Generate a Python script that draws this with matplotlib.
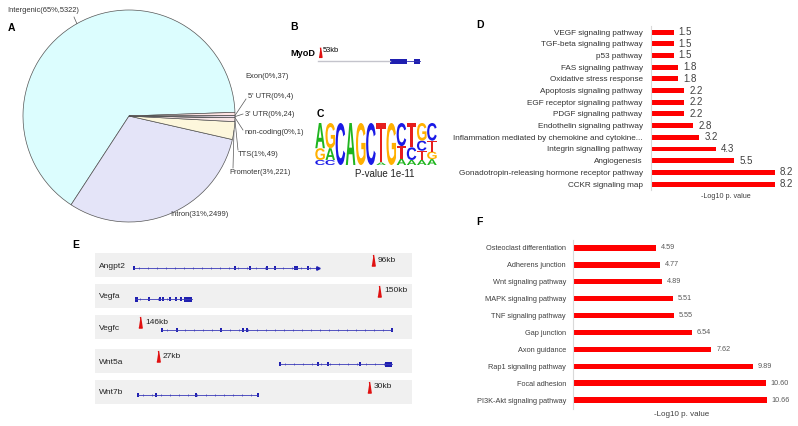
import numpy as np
import matplotlib
matplotlib.use('Agg')
import matplotlib.pyplot as plt
from matplotlib.textpath import TextPath
from matplotlib.patches import PathPatch, Rectangle
from matplotlib.font_manager import FontProperties
from matplotlib.transforms import Affine2D

plt.rcParams['font.family'] = ['Liberation Sans', 'DejaVu Sans']

W, H = 798, 426

# A - peak annotation
ann_names = ['Intergenic', 'Intron', 'Promoter', 'TTS', 'non-coding', "3' UTR", "5' UTR", 'Exon']
ann_counts = [5322, 2499, 221, 49, 1, 24, 4, 37]
ann_pcts = [65, 31, 3, 1, 0, 0, 0, 0]
ann_colors = ['#dcfdfe', '#e4e4f8', '#fdf7dc', '#f8e6e6', '#e6f6e6', '#f0e0f0', '#e0e0ff', '#ffe4e4']

# B - MyoD
myod_peak_kb = 53
myod_exons = [(72, 89), (96, 102)]
myod_span = (0, 102)

# C - motif, stacks bottom -> top
motif = [
    [('C', .12), ('G', .28), ('A', .60)],
    [('C', .12), ('A', .28), ('G', .60)],
    [('C', 1.0)],
    [('A', 1.0)],
    [('G', 1.0)],
    [('C', 1.0)],
    [('A', .06), ('T', .94)],
    [('G', 1.0)],
    [('A', .15), ('T', .30), ('C', .55)],
    [('A', .12), ('C', .30), ('T', .58)],
    [('A', .12), ('T', .22), ('C', .24), ('G', .42)],
    [('A', .14), ('G', .18), ('T', .26), ('C', .42)],
]
motif_pvalue = '1e-11'
base_colors = {'A': '#1fb51f', 'C': '#1a1ae6', 'G': '#ffb000', 'T': '#e61e1e'}

# D - PANTHER pathways
d_terms = ['VEGF signaling pathway', 'TGF-beta signaling pathway', 'p53 pathway',
           'FAS signaling pathway', 'Oxidative stress response', 'Apoptosis signaling pathway',
           'EGF receptor signaling pathway', 'PDGF signaling pathway', 'Endothelin signaling pathway',
           'Inflammation mediated by chemokine and cytokine...', 'Integrin signalling pathway',
           'Angiogenesis', 'Gonadotropin-releasing hormone receptor pathway', 'CCKR signaling map']
d_vals = [1.5, 1.5, 1.5, 1.8, 1.8, 2.2, 2.2, 2.2, 2.8, 3.2, 4.3, 5.5, 8.2, 8.2]

# E - gene tracks
genes = ['Angpt2', 'Vegfa', 'Vegfc', 'Wnt5a', 'Wnt7b']
gene_span = [(39, 223), (40, 97), (67, 297), (185, 297), (43, 163)]
gene_exons = [[39, 140, 155, 172, 180, 200, 202, 213],
              [54, 65, 68, 75, 81, 86],
              [67, 82, 126, 148, 152, 297],
              [185, 223, 233, 265],
              [43, 61, 101, 163]]
gene_utr = [[], [(40, 43), (89, 97)], [], [(290, 297)], []]
peak_pos = [278, 284, 45, 63, 274]
peak_kb = [96, 150, 146, 27, 30]

# F - KEGG pathways
f_terms = ['Osteoclast differentiation', 'Adherens junction', 'Wnt signaling pathway',
           'MAPK signaling pathway', 'TNF signaling pathway', 'Gap junction', 'Axon guidance',
           'Rap1 signaling pathway', 'Focal adhesion', 'PI3K-Akt signaling pathway']
f_vals = [4.59, 4.77, 4.89, 5.51, 5.55, 6.54, 7.62, 9.89, 10.60, 10.66]


def fr(x0, y0, x1, y1):
    return [x0 / W, 1 - y1 / H, (x1 - x0) / W, (y1 - y0) / H]


fig = plt.figure(figsize=(W / 100, H / 100), dpi=100)

# ---- A: pie
cx, cy, r = 129, 116, 106
axA = fig.add_axes(fr(cx - r, cy - r, cx + r, cy + r))
axA.pie(ann_counts, startangle=2, colors=ann_colors, radius=1,
        wedgeprops=dict(edgecolor='#555555', linewidth=0.5))
axA.set_xlim(-1, 1)
axA.set_ylim(-1, 1)
axA.axis('off')

# ---- D: bars
axD = fig.add_axes(fr(651, 26.2, 787, 189.9))
yd = np.arange(len(d_terms))
axD.barh(yd, d_vals, height=0.42, color='#ff0000')
axD.set_ylim(len(yd) - 0.5, -0.5)
axD.set_xlim(0, 9)
axD.set_yticks(yd, d_terms, fontsize=5.9, color='#333333')
axD.tick_params(axis='y', length=0, pad=6)
axD.set_xticks([])
for s in ['top', 'right', 'bottom']:
    axD.spines[s].set_visible(False)
axD.spines['left'].set_color('#d9d9d9')
for yi, v in zip(yd, d_vals):
    axD.text(v + 0.33, yi, f'{v:.1f}', va='center', fontsize=7, color='#404040')

# ---- F: bars
axF = fig.add_axes(fr(573, 239.5, 782, 408.5))
yf = np.arange(len(f_terms))
axF.barh(yf, f_vals, height=0.32, color='#ff0000')
axF.set_ylim(len(yf) - 0.5, -0.5)
axF.set_xlim(0, 11.5)
axF.set_yticks(yf, f_terms, fontsize=5.3, color='#404040')
axF.tick_params(axis='y', length=0, pad=5)
axF.set_xticks([])
for s in ['top', 'right', 'bottom']:
    axF.spines[s].set_visible(False)
axF.spines['left'].set_color('#d9d9d9')
for yi, v in zip(yf, f_vals):
    axF.text(v + 0.27, yi, f'{v:.2f}', va='center', fontsize=5.2, color='#595959')

# ---- C: motif logo
axC = fig.add_axes(fr(315, 123, 437, 165))
axC.set_xlim(0, len(motif))
axC.set_ylim(0, 1)
axC.axis('off')
fp = FontProperties(family='Liberation Sans', weight='bold')
for i, stack in enumerate(motif):
    y0 = 0
    for ch, h in stack:
        tp = TextPath((0, 0), ch, size=1, prop=fp)
        bb = tp.get_extents()
        t = Affine2D().translate(-bb.x0, -bb.y0).scale(0.94 / bb.width, h / bb.height).translate(i + 0.03, y0)
        axC.add_patch(PathPatch(t.transform_path(tp), fc=base_colors[ch], ec='none'))
        y0 += h

# ---- overlay in pixel coords
ax0 = fig.add_axes([0, 0, 1, 1])
ax0.set_xlim(0, W)
ax0.set_ylim(H, 0)
ax0.axis('off')
ax0.patch.set_alpha(0)

# panel letters
for lab, (x, y) in zip('ABCDEF', [(8, 28), (290, 27), (317, 114), (476, 25), (72, 245), (476, 222)]):
    ax0.text(x, y, lab, fontsize=7.5, fontweight='bold', va='center', ha='left')

# pie labels + leader lines
angles = 2 + np.cumsum([0] + ann_counts) / sum(ann_counts) * 360
mids = (angles[:-1] + angles[1:]) / 2
label_pos = {'Intergenic': (7, 10), 'Intron': (170, 214), 'Promoter': (229, 173),
             'TTS': (238, 155), 'non-coding': (245, 133), "3' UTR": (245, 114),
             "5' UTR": (248, 97), 'Exon': (245, 77)}
line_end = {'Intergenic': (74, 17), 'Promoter': (233, 168), 'TTS': (238, 150),
            'non-coding': (243, 130), "3' UTR": (243, 114), "5' UTR": (246, 99)}
for name, n, p, m in zip(ann_names, ann_counts, ann_pcts, mids):
    lx, ly = label_pos[name]
    ax0.text(lx, ly, f'{name}({p}%,{n})', fontsize=5.4, color='#333333', va='center', ha='left')
    if name in line_end:
        sx = cx + r * np.cos(np.radians(m))
        sy = cy - r * np.sin(np.radians(m))
        ex, ey = line_end[name]
        ax0.plot([sx, ex], [sy, ey], color='#555555', lw=0.5)

peak_marker = [(-0.3, -1), (0.3, -1), (0, 1)]

# B: MyoD
bx, by = 318, 61
ax0.text(290, 53, 'MyoD', fontsize=6.6, fontweight='bold', va='center', ha='left')
ax0.plot([bx + myod_span[0], bx + myod_exons[0][0]], [by, by], color='#c4c4cc', lw=1)
ax0.plot([bx + myod_exons[0][1], bx + myod_span[1]], [by, by], color='#3030b0', lw=0.6)
for e0, e1 in myod_exons:
    ax0.add_patch(Rectangle((bx + e0, by - 2.5), e1 - e0, 5, color='#1f1fb0', lw=0))
ax0.plot(bx + 2, 52, marker=peak_marker, ms=7, color='#e01010', lw=0)
ax0.text(bx + 5, 50, f'{myod_peak_kb}kb', fontsize=5.4, va='center', ha='left')

# C: p-value
ax0.text(385, 174, f'P-value {motif_pvalue}', fontsize=7, va='center', ha='center', color='#222222')

# D / F x labels
ax0.text(726, 196, '-Log10 p. value', fontsize=5.2, va='center', ha='center', color='#404040')
ax0.text(682, 415, '-Log10 p. value', fontsize=5.8, va='center', ha='center', color='#404040')

# E: gene tracks
ex0, ex1 = 95, 412
band_top = [253, 284, 315, 349, 380]
for g, (s, e), exons, utr, pk, kb, bt in zip(genes, gene_span, gene_exons, gene_utr, peak_pos, peak_kb, band_top):
    ax0.add_patch(Rectangle((ex0, bt), ex1 - ex0, 24, color='#f0f0f0', lw=0))
    ax0.text(99, bt + 13, g, fontsize=6, va='center', ha='left', color='#222222')
    gy = bt + 15
    ax0.plot([ex0 + s, ex0 + e], [gy, gy], color='#3a3ab8', lw=0.6)
    ticks = np.arange(s + 5, e - 2, 9)
    ax0.plot(ex0 + ticks, np.full(len(ticks), gy), ls='none', marker='|', ms=1.8, mew=0.5, color='#3a3ab8')
    for x in exons:
        ax0.add_patch(Rectangle((ex0 + x - 0.8, gy - 2), 1.6, 4, color='#1f1fb0', lw=0))
    for u0, u1 in utr:
        ax0.add_patch(Rectangle((ex0 + u0, gy - 2.5), u1 - u0, 5, color='#1f1fb0', lw=0))
    if g == 'Angpt2':
        ax0.plot(ex0 + e, gy, marker='>', ms=2.5, color='#1f1fb0', lw=0)
    ax0.plot(ex0 + pk, bt + 7, marker=peak_marker, ms=8, color='#e01010', lw=0)
    ax0.text(ex0 + pk + 5, bt + 7, f'{kb}kb', fontsize=6, va='center', ha='left', color='#222222')

fig.savefig('out.png', dpi=100)
